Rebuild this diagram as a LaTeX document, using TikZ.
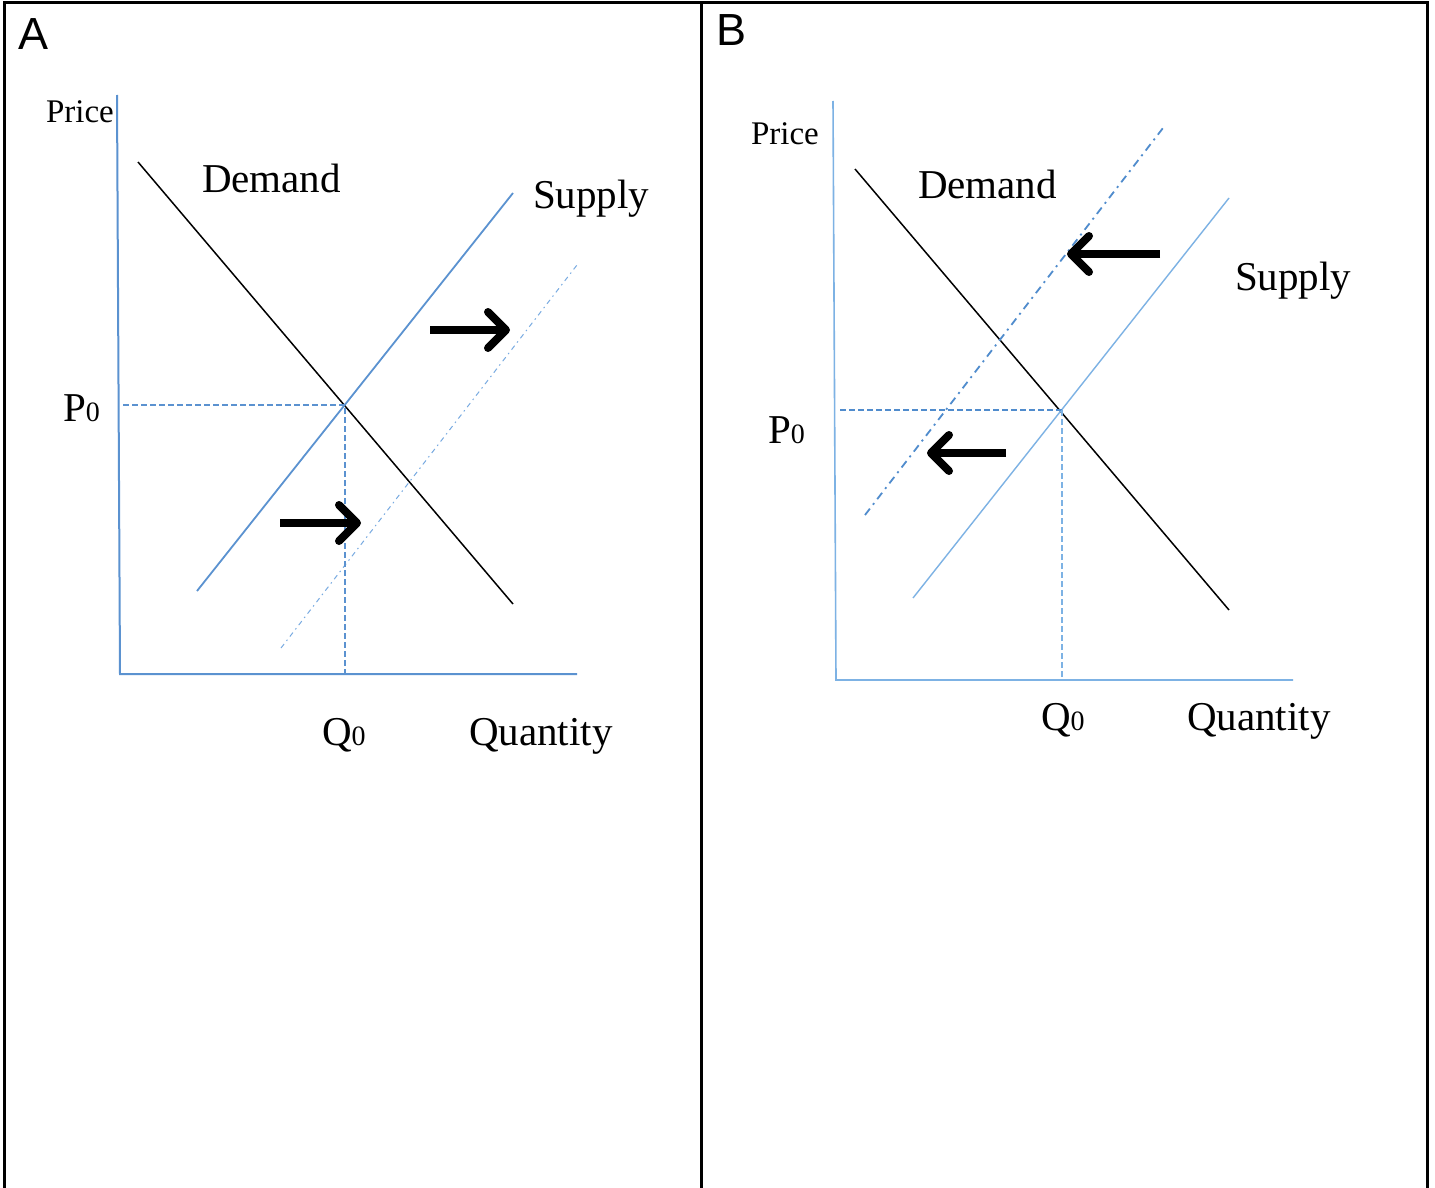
\documentclass[tikz,border=0pt]{standalone}
\usepackage{fontspec}
\setmainfont{Liberation Serif}
\newfontfamily\panelfont{Liberation Sans}
\usetikzlibrary{arrows.meta}
\definecolor{axA}{RGB}{91,146,208}
\definecolor{axB}{RGB}{125,178,228}
\definecolor{dotA}{RGB}{120,170,225}
\definecolor{dotB}{RGB}{80,140,205}
\begin{document}
\begin{tikzpicture}[x=1pt,y=-1pt,
  lbl/.style={anchor=base west,inner sep=0pt,outer sep=0pt,font=\fontsize{41}{41}\selectfont},
  pricelbl/.style={anchor=base west,inner sep=0pt,outer sep=0pt,font=\fontsize{33}{33}\selectfont},
  panellbl/.style={anchor=base west,inner sep=0pt,outer sep=0pt,font=\panelfont\fontsize{45}{45}\selectfont},
  frame/.style={line width=3pt,black},
  axisA/.style={line width=2pt,axA},
  axisB/.style={line width=1.6pt,axB},
  demandline/.style={line width=1.5pt,black},
  guide/.style={line width=1.4pt,dash pattern=on 6pt off 3pt},
  shiftarrow/.style={line width=8pt,black,-{Straight Barb[length=18pt,width=36pt,round]}}
]
\useasboundingbox (0,0) rectangle (1435,1188);
\fill[white] (0,0) rectangle (1435,1188);
% frame
\coordinate (f1) at (4,1188); \coordinate (f2) at (4,3);
\coordinate (f3) at (1427,3); \coordinate (f4) at (1427,1188);
\coordinate (m1) at (701,3); \coordinate (m2) at (701,1188);
\draw[frame] (f1) -- (f2) -- (f3) -- (f4);
\draw[frame] (m1) -- (m2);

% ---------- Panel A ----------
\node[panellbl] (A) at (19,50) {A};
\node[pricelbl] (priceA) at (46,123) {Price};
\coordinate (yA1) at (117,95); \coordinate (oA) at (120,674); \coordinate (xA2) at (577,674);
\draw[axisA] (yA1) -- (oA) -- (xA2);
\coordinate (dA1) at (138,162); \coordinate (dA2) at (513,604);
\draw[demandline] (dA1) -- (dA2);
\coordinate (sA1) at (197,591); \coordinate (sA2) at (513,193);
\draw[line width=1.8pt,axA] (sA1) -- (sA2);
\coordinate (tA1) at (281,648); \coordinate (tA2) at (577,265);
\draw[line width=1pt,dotA,dash pattern=on 5pt off 4pt on 1.5pt off 4pt] (tA1) -- (tA2);
\coordinate (pA1) at (123,405); \coordinate (eA) at (345,405); \coordinate (qA) at (345,674);
\draw[guide,axA] (pA1) -- (eA) -- (qA);
\coordinate (aA1) at (430,330); \coordinate (aA2) at (510,330);
\draw[shiftarrow] (aA1) -- (aA2);
\coordinate (aA3) at (280,523); \coordinate (aA4) at (361,523);
\draw[shiftarrow] (aA3) -- (aA4);
\node[lbl] (demA) at (202,193) {Demand};
\node[lbl] (supA) at (533,208) {Supply};
\node[lbl] (P0A) at (63,421) {P{\fontsize{28}{28}\selectfont 0}};
\node[lbl] (Q0A) at (322,745) {Q{\fontsize{28}{28}\selectfont 0}};
\node[lbl] (quA) at (469,745) {Quantity};

% ---------- Panel B ----------
\node[panellbl] (B) at (716,46) {B};
\node[pricelbl] (priceB) at (751,145) {Price};
\coordinate (yB1) at (833,101); \coordinate (oB) at (836,680); \coordinate (xB2) at (1293,680);
\draw[axisB] (yB1) -- (oB) -- (xB2);
\coordinate (dB1) at (855,169); \coordinate (dB2) at (1229,610);
\draw[demandline] (dB1) -- (dB2);
\coordinate (sB1) at (913,598); \coordinate (sB2) at (1229,198);
\draw[line width=1.4pt,axB] (sB1) -- (sB2);
\coordinate (tB1) at (865,515); \coordinate (tB2) at (1163,128);
\draw[line width=1.8pt,dotB,dash pattern=on 8pt off 5pt on 2pt off 5pt] (tB1) -- (tB2);
\coordinate (pB1) at (840,410); \coordinate (eB) at (1062,410); \coordinate (qB) at (1062,680);
\draw[guide,dotB] (pB1) -- (eB);
\draw[guide,axB] (eB) -- (qB);
\coordinate (aB1) at (1160,254); \coordinate (aB2) at (1067,254);
\draw[shiftarrow] (aB1) -- (aB2);
\coordinate (aB3) at (1006,453); \coordinate (aB4) at (927,453);
\draw[shiftarrow] (aB3) -- (aB4);
\node[lbl] (demB) at (918,198) {Demand};
\node[lbl] (supB) at (1235,290) {Supply};
\node[lbl] (P0B) at (768,443) {P{\fontsize{28}{28}\selectfont 0}};
\node[lbl] (Q0B) at (1041,730) {Q{\fontsize{28}{28}\selectfont 0}};
\node[lbl] (quB) at (1187,730) {Quantity};
\end{tikzpicture}
\end{document}
